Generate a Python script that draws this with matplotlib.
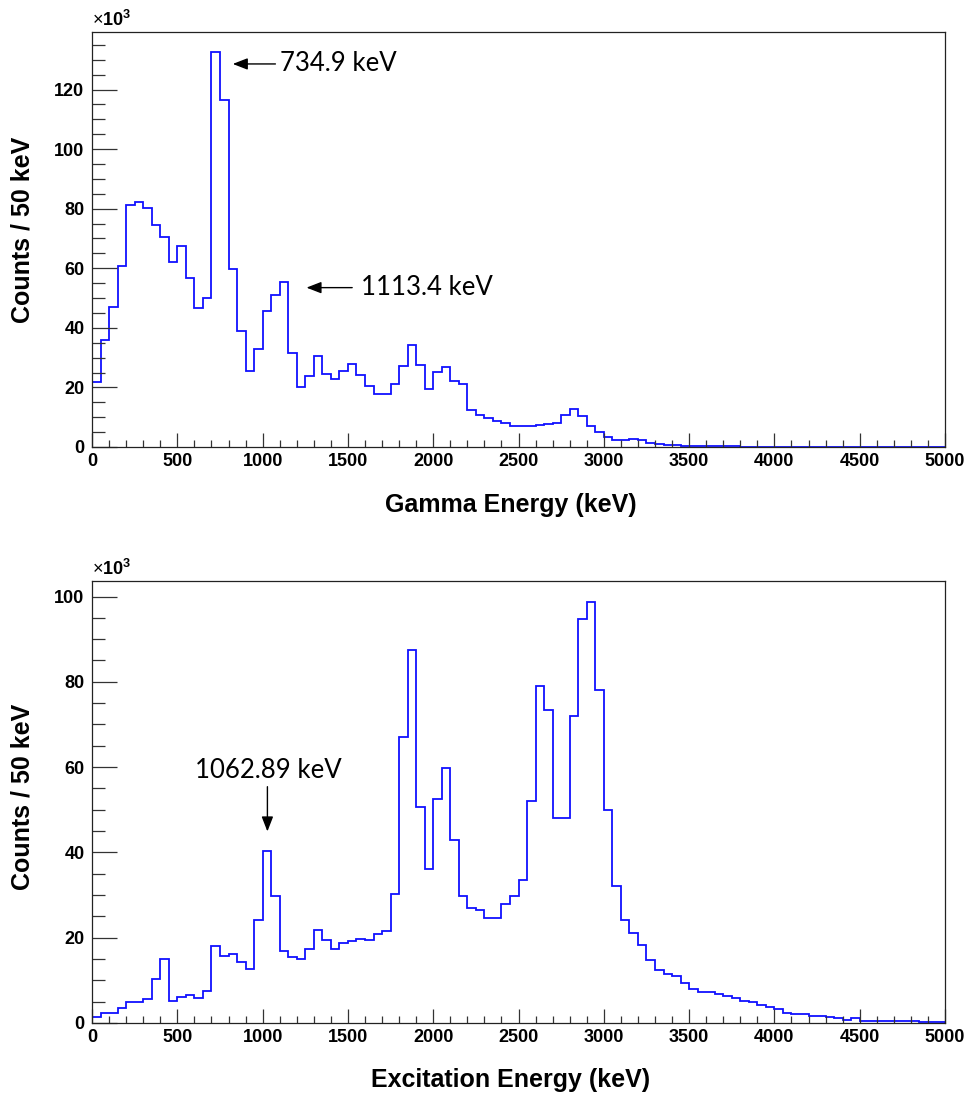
import numpy as np
import matplotlib
matplotlib.use("Agg")
import matplotlib.pyplot as plt
from matplotlib.ticker import MultipleLocator

# Histogram binning: 50 keV bins from 0 to 5000 keV
bin_width = 50
energy_max = 5000

# Gamma-ray spectrum, counts per bin in units of 10^3
gamma_counts = [
    21.8, 35.8, 46.9, 60.9, 81.3, 82.4, 80.4, 74.5, 70.6, 62.2,
    67.6, 56.6, 46.5, 49.9, 132.7, 116.5, 59.6, 39.0, 25.5, 32.8,
    45.5, 51.0, 55.4, 31.5, 20.3, 23.7, 30.7, 24.6, 22.8, 25.5,
    28.0, 24.2, 20.4, 17.8, 17.8, 21.3, 27.2, 34.4, 27.5, 19.5,
    25.1, 26.9, 22.0, 21.0, 12.3, 10.7, 9.6, 8.7, 8.2, 7.2,
    7.2, 7.2, 7.5, 7.7, 7.9, 10.9, 12.6, 10.4, 7.2, 4.9,
    3.2, 2.5, 2.5, 2.8, 2.4, 1.5, 1.1, 0.7, 0.6, 0.45,
    0.35, 0.3, 0.3, 0.25, 0.2, 0.2, 0.15, 0.15, 0.1, 0.1,
    0, 0, 0, 0, 0, 0, 0, 0, 0, 0,
    0, 0, 0, 0, 0, 0, 0, 0, 0, 0,
]

# Excitation-energy spectrum, counts per bin in units of 10^3
excitation_counts = [
    1.3, 2.3, 2.3, 3.5, 4.9, 4.9, 5.5, 10.3, 15.1, 5.2,
    6.2, 6.5, 5.9, 7.4, 18.0, 15.6, 16.2, 14.4, 12.6, 24.2,
    40.4, 29.8, 16.8, 15.4, 15.0, 17.3, 21.9, 19.5, 17.3, 18.7,
    19.2, 19.8, 19.5, 20.8, 21.5, 30.2, 67.0, 87.4, 50.6, 36.1,
    52.4, 59.8, 42.9, 29.7, 26.9, 26.5, 24.7, 24.7, 27.8, 29.7,
    33.6, 52.1, 79.1, 73.5, 48.0, 48.0, 72.0, 94.8, 98.7, 78.0,
    50.0, 32.0, 24.2, 21.2, 18.3, 14.8, 12.4, 11.5, 10.9, 9.4,
    8.0, 7.3, 7.2, 6.9, 6.4, 5.9, 5.2, 4.8, 4.1, 3.7,
    3.2, 2.3, 2.2, 2.0, 1.7, 1.6, 1.4, 1.2, 0.8, 1.2,
    0.5, 0.5, 0.5, 0.45, 0.4, 0.4, 0.35, 0.2, 0.2, 0.2,
]

x_ticks = [0, 500, 1000, 1500, 2000, 2500, 3000, 3500, 4000, 4500, 5000]
y_ticks = [0, 20, 40, 60, 80, 100, 120]

gamma_xlabel = "Gamma Energy (keV)"
excitation_xlabel = "Excitation Energy (keV)"
ylabel = "Counts / 50 keV"

edges = np.arange(0, energy_max + bin_width, bin_width)

plt.rcParams["font.family"] = ["Liberation Sans", "DejaVu Sans"]
plt.rcParams["mathtext.fontset"] = "custom"
plt.rcParams["mathtext.bf"] = "Liberation Sans:bold"
plt.rcParams["mathtext.rm"] = "Liberation Sans"
note_font = ["Lato", "DejaVu Sans"]

fig = plt.figure(figsize=(9.74, 10.95), dpi=100)
ax_top = fig.add_axes([0.0945, 0.5918, 0.8757, 0.3790])
ax_bot = fig.add_axes([0.0945, 0.0658, 0.8757, 0.4036])


def style_axes(ax, counts, xlabel, label_y, xlabel_y):
    ax.stairs(counts, edges, baseline=0, color="#1010ff", linewidth=1.3)
    ymax = 1.05 * max(counts)
    ax.set_xlim(0, energy_max)
    ax.set_ylim(0, ymax)
    ax.set_xticks(x_ticks)
    ax.set_yticks([t for t in y_ticks if t <= ymax])
    ax.xaxis.set_minor_locator(MultipleLocator(100))
    ax.yaxis.set_minor_locator(MultipleLocator(5))
    ax.tick_params(axis="both", which="both", direction="in", color="#333333",
                   width=0.9, top=False, right=False)
    ax.tick_params(axis="y", which="major", length=18, pad=5.5)
    ax.tick_params(axis="y", which="minor", length=9.5)
    ax.tick_params(axis="x", which="major", length=10, pad=4)
    ax.tick_params(axis="x", which="minor", length=5)
    for lab in ax.get_xticklabels() + ax.get_yticklabels():
        lab.set_fontsize(13)
        lab.set_fontweight("bold")
    for sp in ax.spines.values():
        sp.set_linewidth(0.9)
        sp.set_color("#222222")
    ax.set_xlabel(xlabel, fontsize=18, fontweight="bold")
    ax.xaxis.set_label_coords(0.491, xlabel_y)
    ax.set_ylabel(ylabel, fontsize=18, fontweight="bold")
    ax.yaxis.set_label_coords(-0.067, label_y)
    ax.text(0.0, 1.004, r"$\times\mathbf{10^{3}}$", transform=ax.transAxes,
            fontsize=13, ha="left", va="bottom")


style_axes(ax_top, gamma_counts, gamma_xlabel, 0.523, -0.112)
style_axes(ax_bot, excitation_counts, excitation_xlabel, 0.511, -0.102)

arrow = dict(arrowstyle="-|>,head_length=0.9,head_width=0.35", color="black",
             lw=1.0, shrinkA=0, shrinkB=0)

ax_top.annotate("", xy=(825, 128.6), xytext=(1075, 128.6), arrowprops=arrow)
ax_top.text(1100, 128.6, "734.9 keV", fontsize=18.5, family=note_font,
            ha="left", va="center")

ax_top.annotate("", xy=(1257, 53.5), xytext=(1525, 53.5), arrowprops=arrow)
ax_top.text(1575, 53.5, "1113.4 keV", fontsize=18.5, family=note_font,
            ha="left", va="center")

ax_bot.annotate("", xy=(1028, 44.9), xytext=(1028, 55.4), arrowprops=arrow)
ax_bot.text(1034, 59.3, "1062.89 keV", fontsize=18.5, family=note_font,
            ha="center", va="center")

fig.savefig("out.png", dpi=100)
